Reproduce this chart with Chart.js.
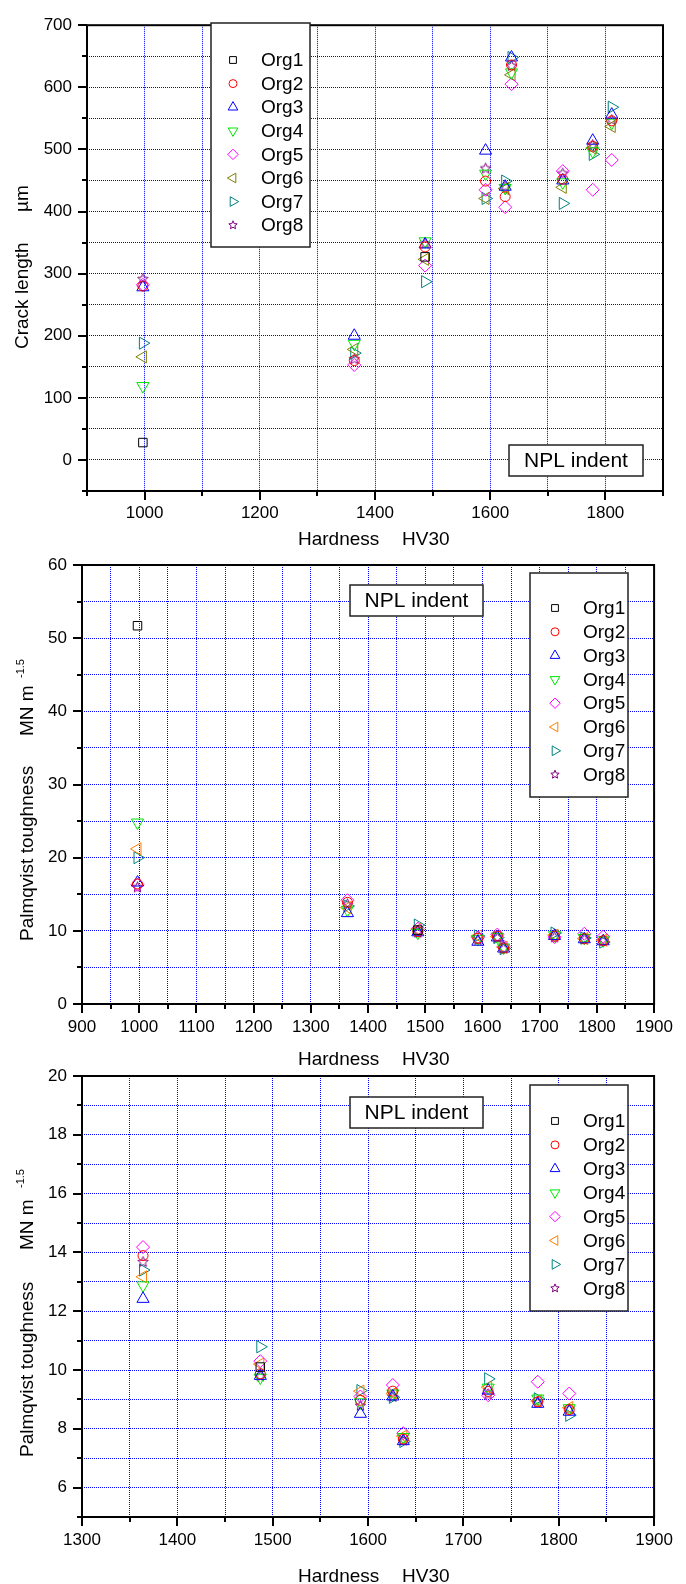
<!DOCTYPE html>
<html>
<head>
<meta charset="utf-8">
<script src="https://cdn.jsdelivr.net/npm/chart.js@4/dist/chart.umd.min.js"></script>
<style>
html, body { margin: 0; padding: 0; background: #ffffff; }
#wrap { position: relative; width: 686px; height: 1584px; overflow: hidden; background: #ffffff; }
#wrap canvas { position: absolute; left: 0; top: 0; }
</style>
</head>
<body>
<div id="wrap">
  <canvas id="c1" width="686" height="1584"></canvas>
  <canvas id="c2" width="686" height="1584"></canvas>
  <canvas id="c3" width="686" height="1584"></canvas>
</div>
<script>
// ---------------- DATA ----------------
const series = ['Org1', 'Org2', 'Org3', 'Org4', 'Org5', 'Org6', 'Org7', 'Org8'];
const hardness = [997, 1364, 1487, 1592, 1626, 1637, 1726, 1778, 1811];

// Crack length (µm) per organisation, aligned with hardness
const crackOrg1 = [28, null, 327, null, null, null, null, null, null];
const crackOrg2 = [280, 160, 343, 449, 424, 636, 452, 505, 546];
const crackOrg3 = [278, 200, 347, 498, 440, 648, 450, 514, 556];
const crackOrg4 = [119, 187, 352, 461, 438, 624, 447, 497, 543];
const crackOrg5 = [282, 153, 313, 435, 407, 605, 465, 435, 483];
const crackOrg6 = [166, 178, 323, 421, 437, 620, 439, 502, 537];
const crackOrg7 = [188, 172, 287, 421, 449, 648, 413, 492, 568];
const crackOrg8 = [292, 163, 349, 470, 441, 635, 462, 508, 548];

// Palmqvist toughness (MN m^-1.5) per organisation, aligned with hardness
const toughOrg1 = [51.7, null, 10.1, null, null, null, null, null, null];
const toughOrg2 = [16.4, 13.89, 9.87, 8.97, 9.28, 7.65, 9.27, 8.92, 8.65];
const toughOrg3 = [16.6, 12.42, 9.80, 8.51, 9.10, 7.58, 9.30, 8.85, 8.58];
const toughOrg4 = [24.8, 12.88, 9.74, 8.90, 9.20, 7.72, 9.40, 9.03, 8.70];
const toughOrg5 = [16.3, 14.18, 10.30, 9.10, 9.49, 7.85, 9.14, 9.60, 9.20];
const toughOrg6 = [21.2, 13.17, 10.20, 9.28, 9.20, 7.75, 9.41, 8.95, 8.72];
const toughOrg7 = [20.0, 13.40, 10.79, 9.30, 9.07, 7.57, 9.70, 9.02, 8.46];
const toughOrg8 = [16.0, 13.69, 9.80, 8.80, 9.10, 7.62, 9.18, 8.90, 8.68];

// Tick labels
const chart1XTickLabels = [1000, 1200, 1400, 1600, 1800];
const chart1YTickLabels = [0, 100, 200, 300, 400, 500, 600, 700];
const chart2XTickLabels = [900, 1000, 1100, 1200, 1300, 1400, 1500, 1600, 1700, 1800, 1900];
const chart2YTickLabels = [0, 10, 20, 30, 40, 50, 60];
const chart3XTickLabels = [1300, 1400, 1500, 1600, 1700, 1800, 1900];
const chart3YTickLabels = [6, 8, 10, 12, 14, 16, 18, 20];

const crackSeries = [crackOrg1, crackOrg2, crackOrg3, crackOrg4, crackOrg5, crackOrg6, crackOrg7, crackOrg8];
const toughSeries = [toughOrg1, toughOrg2, toughOrg3, toughOrg4, toughOrg5, toughOrg6, toughOrg7, toughOrg8];

// ---------------- STYLES ----------------
const FONT = "'Liberation Sans', Arial, Helvetica, sans-serif";
const colors1 = ['#000000', '#ff0000', '#0000ff', '#00e600', '#ff00ff', '#808000', '#008080', '#800080'];
const colors23 = ['#000000', '#ff0000', '#0000ff', '#00e600', '#ff00ff', '#ff8000', '#008080', '#800080'];

function starImage(color, R) {
  const s = Math.ceil(2 * R + 4);
  const c = document.createElement('canvas');
  c.width = s; c.height = s;
  const g = c.getContext('2d');
  g.strokeStyle = color; g.lineWidth = 1;
  g.beginPath();
  for (let k = 0; k < 10; k++) {
    const r = k % 2 === 0 ? R : R * 0.45;
    const ang = -Math.PI / 2 + k * Math.PI / 5;
    const x = s / 2 + r * Math.cos(ang), y = s / 2 + r * Math.sin(ang) + 0.5;
    if (k === 0) g.moveTo(x, y); else g.lineTo(x, y);
  }
  g.closePath(); g.stroke();
  return c;
}

const markers = [
  { style: 'rect', r: 6, rot: 0 },
  { style: 'circle', r: 5, rot: 0 },
  { style: 'triangle', r: 7, rot: 0 },
  { style: 'triangle', r: 7, rot: 180 },
  { style: 'rectRot', r: 6.5, rot: 0 },
  { style: 'triangle', r: 7, rot: 270 },
  { style: 'triangle', r: 7, rot: 90 },
  { style: 'star', r: 5.5, rot: 0 }
];

function drawMarker(ctx, m, color, x, y, k) {
  const r = m.r * k;
  ctx.save();
  ctx.strokeStyle = color; ctx.lineWidth = 1;
  ctx.beginPath();
  if (m.style === 'rect') {
    const h = Math.SQRT1_2 * r;
    ctx.rect(x - h, y - h, 2 * h, 2 * h);
  } else if (m.style === 'circle') {
    ctx.arc(x, y, r, 0, Math.PI * 2);
  } else if (m.style === 'rectRot') {
    ctx.moveTo(x - r, y); ctx.lineTo(x, y - r); ctx.lineTo(x + r, y); ctx.lineTo(x, y + r); ctx.closePath();
  } else if (m.style === 'triangle') {
    let rad = m.rot * Math.PI / 180;
    ctx.moveTo(x + Math.sin(rad) * r, y - Math.cos(rad) * r);
    rad += 2 * Math.PI / 3;
    ctx.lineTo(x + Math.sin(rad) * r, y - Math.cos(rad) * r);
    rad += 2 * Math.PI / 3;
    ctx.lineTo(x + Math.sin(rad) * r, y - Math.cos(rad) * r);
    ctx.closePath();
  } else if (m.style === 'star') {
    for (let q = 0; q < 10; q++) {
      const rr = q % 2 === 0 ? r : r * 0.45;
      const ang = -Math.PI / 2 + q * Math.PI / 5;
      const px = x + rr * Math.cos(ang), py = y + rr * Math.sin(ang);
      if (q === 0) ctx.moveTo(px, py); else ctx.lineTo(px, py);
    }
    ctx.closePath();
  }
  ctx.stroke();
  ctx.restore();
}

function gridValues(min, max, step) {
  const out = [];
  const n = Math.round((max - min) / step);
  for (let i = 0; i <= n; i++) out.push(+(min + i * step).toFixed(6));
  return out;
}

function decorPlugin(spec) {
  return {
    id: 'decor',
    afterDraw(chart) {
      const ctx = chart.ctx, a = chart.chartArea;
      const xs = chart.scales.x, ys = chart.scales.y;
      ctx.save();
      // tick marks (outward)
      ctx.strokeStyle = '#000'; ctx.lineWidth = 2;
      ctx.beginPath();
      xs.ticks.forEach(t => {
        const p = Math.round(xs.getPixelForValue(t.value));
        const len = spec.xLabels.includes(t.value) ? 9 : 5;
        ctx.moveTo(p, a.bottom); ctx.lineTo(p, a.bottom + len);
      });
      ys.ticks.forEach(t => {
        const p = Math.round(ys.getPixelForValue(t.value));
        const len = spec.yLabels.includes(t.value) ? 9 : 5;
        ctx.moveTo(a.left, p); ctx.lineTo(a.left - len, p);
      });
      ctx.stroke();
      // frame
      ctx.lineWidth = 2;
      ctx.strokeRect(a.left, a.top, a.right - a.left, a.bottom - a.top);

      // legend box
      const L = spec.legend;
      ctx.fillStyle = '#fff';
      ctx.fillRect(L.x1, L.y1, L.x2 - L.x1, L.y2 - L.y1);
      ctx.strokeStyle = '#222'; ctx.lineWidth = 1.5;
      ctx.strokeRect(L.x1, L.y1, L.x2 - L.x1, L.y2 - L.y1);
      ctx.font = '19px ' + FONT;
      ctx.textAlign = 'left'; ctx.textBaseline = 'middle';
      series.forEach((name, i) => {
        const y = L.row0 + i * L.dy;
        drawMarker(ctx, markers[i], spec.colors[i], L.mx, y, 0.8);
        ctx.fillStyle = '#000';
        ctx.fillText(name, L.tx, y + 1);
      });

      // NPL indent box
      const N = spec.npl;
      ctx.fillStyle = '#fff';
      ctx.fillRect(N.x1, N.y1, N.x2 - N.x1, N.y2 - N.y1);
      ctx.strokeStyle = '#222'; ctx.lineWidth = 1.5;
      ctx.strokeRect(N.x1, N.y1, N.x2 - N.x1, N.y2 - N.y1);
      ctx.fillStyle = '#000';
      ctx.font = '21px ' + FONT;
      ctx.textAlign = 'center'; ctx.textBaseline = 'middle';
      ctx.fillText('NPL indent', (N.x1 + N.x2) / 2, (N.y1 + N.y2) / 2 + 1);

      // x axis title
      const T = spec.xTitle;
      ctx.font = '19px ' + FONT;
      ctx.textAlign = 'left'; ctx.textBaseline = 'middle';
      ctx.fillText('Hardness', T.x1, T.y);
      ctx.fillText('HV30', T.x2, T.y);

      // y axis title (rotated, pieces)
      spec.yTitle.forEach(piece => {
        ctx.save();
        ctx.translate(piece.x, piece.y);
        ctx.rotate(-Math.PI / 2);
        ctx.font = piece.size + 'px ' + FONT;
        ctx.textAlign = 'left'; ctx.textBaseline = 'alphabetic';
        ctx.fillText(piece.text, 0, 0);
        ctx.restore();
      });
      ctx.restore();
    }
  };
}

function makeChart(id, spec) {
  const datasets = series.map((name, i) => ({
    label: name,
    data: hardness.map((h, j) => ({ x: h, y: spec.values[i][j] })).filter(p => p.y !== null),
    pointStyle: markers[i].style === 'star' ? starImage(spec.colors[i], markers[i].r) : markers[i].style,
    pointRadius: markers[i].r,
    pointHoverRadius: markers[i].r,
    pointRotation: markers[i].rot,
    borderColor: spec.colors[i],
    backgroundColor: 'rgba(0,0,0,0)',
    pointBorderWidth: 1,
    showLine: false
  }));
  const xGrid = gridValues(spec.xMin, spec.xMax, spec.xStep);
  const yGrid = gridValues(spec.yMin, spec.yMax, spec.yStep);
  const area = spec.area;
  return new Chart(document.getElementById(id), {
    type: 'scatter',
    data: { datasets },
    options: {
      responsive: false,
      animation: false,
      devicePixelRatio: 1,
      events: [],
      layout: { padding: { left: 0, top: area.T, right: 686 - area.R, bottom: 0 } },
      plugins: { legend: { display: false }, tooltip: { enabled: false } },
      scales: {
        x: {
          type: 'linear', position: 'bottom',
          min: spec.xMin, max: spec.xMax,
          afterBuildTicks: s => { s.ticks = xGrid.map(v => ({ value: v })); },
          afterFit: s => { s.height = 1584 - area.B; },
          ticks: {
            autoSkip: false, maxRotation: 0, minRotation: 0,
            padding: spec.xPad, color: '#000',
            font: { family: FONT, size: 17 },
            callback: v => spec.xLabels.includes(v) ? String(v) : ''
          },
          grid: {
            drawTicks: false, lineWidth: 1,
            color: c => (c.tick && (c.tick.value === spec.xMin || c.tick.value === spec.xMax)) ? 'rgba(0,0,0,0)' : '#0000ff'
          },
          border: { display: false, dash: [1, 1] }
        },
        y: {
          type: 'linear', position: 'left',
          min: spec.yMin, max: spec.yMax,
          afterBuildTicks: s => { s.ticks = yGrid.map(v => ({ value: v })); },
          afterFit: s => { s.width = area.L; },
          ticks: {
            autoSkip: false,
            padding: 15, color: '#000',
            font: { family: FONT, size: 17 },
            callback: v => spec.yLabels.includes(v) ? String(v) : ''
          },
          grid: {
            drawTicks: false, lineWidth: 1,
            color: c => (c.tick && (c.tick.value === spec.yMin || c.tick.value === spec.yMax)) ? 'rgba(0,0,0,0)' : '#0000ff'
          },
          border: { display: false, dash: [1, 1] }
        }
      }
    },
    plugins: [decorPlugin(spec)]
  });
}

// Chart 1: crack length vs hardness
makeChart('c1', {
  values: crackSeries, colors: colors1,
  xMin: 900, xMax: 1900, xStep: 100, xLabels: chart1XTickLabels, xPad: 12,
  yMin: -50, yMax: 700, yStep: 50, yLabels: chart1YTickLabels,
  area: { L: 87, T: 16, R: 663, B: 491 },
  legend: { x1: 211, y1: 23, x2: 310, y2: 247, mx: 233, tx: 261, row0: 60, dy: 23.6 },
  npl: { x1: 509, y1: 445, x2: 643, y2: 476 },
  xTitle: { x1: 298, x2: 402, y: 540 },
  yTitle: [
    { text: 'Crack length', x: 28, y: 349, size: 19 },
    { text: 'µm', x: 28, y: 212, size: 19 }
  ]
});

// Chart 2: Palmqvist toughness vs hardness (full range)
makeChart('c2', {
  values: toughSeries, colors: colors23,
  xMin: 900, xMax: 1900, xStep: 50, xLabels: chart2XTickLabels, xPad: 13,
  yMin: 0, yMax: 60, yStep: 5, yLabels: chart2YTickLabels,
  area: { L: 82, T: 565, R: 666, B: 1004 },
  legend: { x1: 530, y1: 573, x2: 628, y2: 797, mx: 555, tx: 583, row0: 608, dy: 23.8 },
  npl: { x1: 350, y1: 585, x2: 483, y2: 616 },
  xTitle: { x1: 298, x2: 402, y: 1060 },
  yTitle: [
    { text: 'Palmqvist toughness', x: 33, y: 941, size: 19 },
    { text: 'MN m', x: 33, y: 736, size: 19 },
    { text: '-1.5', x: 24, y: 678, size: 11 }
  ]
});

// Chart 3: Palmqvist toughness vs hardness (zoomed)
makeChart('c3', {
  values: toughSeries, colors: colors23,
  xMin: 1300, xMax: 1900, xStep: 50, xLabels: chart3XTickLabels, xPad: 13,
  yMin: 5, yMax: 20, yStep: 1, yLabels: chart3YTickLabels,
  area: { L: 82, T: 1076, R: 666, B: 1517 },
  legend: { x1: 530, y1: 1085, x2: 628, y2: 1311, mx: 555, tx: 583, row0: 1121, dy: 23.9 },
  npl: { x1: 350, y1: 1097, x2: 483, y2: 1128 },
  xTitle: { x1: 298, x2: 402, y: 1577 },
  yTitle: [
    { text: 'Palmqvist toughness', x: 33, y: 1457, size: 19 },
    { text: 'MN m', x: 33, y: 1250, size: 19 },
    { text: '-1.5', x: 24, y: 1188, size: 11 }
  ]
});
</script>
</body>
</html>
